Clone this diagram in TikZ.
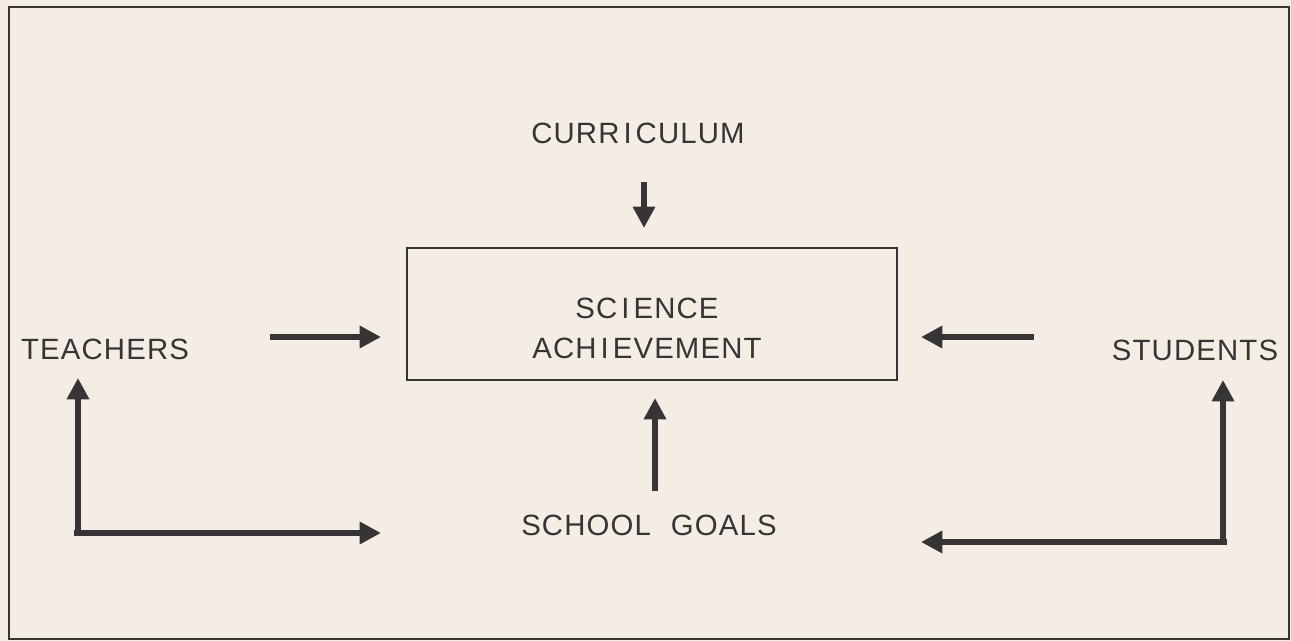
\documentclass[tikz,border=0pt]{standalone}
\usepackage{fontspec}
\setmainfont{Liberation Sans}[LetterSpace=4]
\usetikzlibrary{arrows.meta}
\definecolor{paper}{HTML}{F4EDE5}
\definecolor{ink}{HTML}{363434}
\tikzset{
  label/.style={inner sep=0pt, text=ink, font=\fontsize{22}{26}\selectfont},
  arr/.style={draw=ink, line width=5pt, -{Triangle[length=16pt,width=16pt]}},
  core/.style={draw=ink, line width=1.3pt, minimum width=367.5pt, minimum height=99pt, inner sep=0pt}
}
\newcommand{\gapI}{\kern3pt I\kern3pt}
\begin{document}
\begin{tikzpicture}[x=0.75pt,y=-0.75pt]
  \useasboundingbox (0,0) rectangle (1291,641);
  \fill[paper] (0,0) rectangle (1291,641);
  \draw[ink, line width=1.6pt] (9,7) rectangle (1289,639);

  % central box and the four factors
  \node[core] (sci) at (652,314) {};
  \node[label, align=center] (scitxt) at (647,328) {SC\gapI ENCE\\[4pt]ACH\gapI EVEMENT};
  \node[label] (curr) at (638,133) {CURR\gapI CULUM};
  \node[label] (teach) at (105,349) {TEACHERS};
  \node[label] (stud) at (1195,350) {STUDENTS};
  \node[label] (goals) at (649,525) {SCHOOL\hspace{8pt} GOALS};

  % arrow ends
  \coordinate (cA) at (644,182);
  \coordinate (cB) at (644,228);
  \coordinate (tA) at (270,337);
  \coordinate (tB) at (381,337);
  \coordinate (sA) at (1034,337);
  \coordinate (sB) at (921,337);
  \coordinate (gA) at (655,491);
  \coordinate (gB) at (655,398);
  \coordinate (lCorner) at (78,533);
  \coordinate (lTip) at (78,378);
  \coordinate (lEnd) at (381,533);
  \coordinate (rCorner) at (1223,542);
  \coordinate (rTip) at (1223,380);
  \coordinate (rEnd) at (921,542);

  % influences on achievement
  \draw[arr] (cA) -- (cB);
  \draw[arr] (tA) -- (tB);
  \draw[arr] (sA) -- (sB);
  \draw[arr] (gA) -- (gB);

  % feedback paths
  \draw[arr] (lCorner) -- (lTip);
  \draw[arr] ([xshift=-3.3pt]lCorner) -- (lEnd);
  \draw[arr] (rCorner) -- (rTip);
  \draw[arr] ([xshift=3.3pt]rCorner) -- (rEnd);
\end{tikzpicture}
\end{document}
